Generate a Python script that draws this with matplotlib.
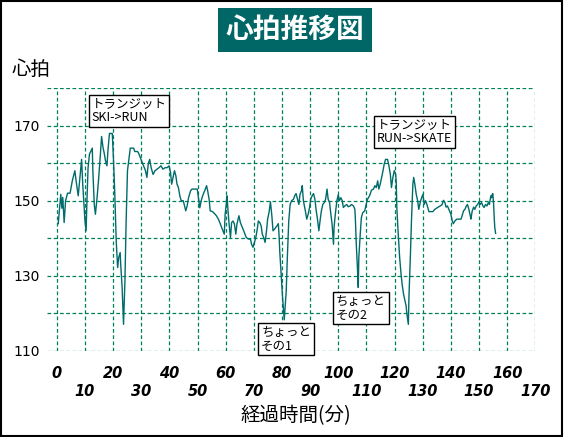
import matplotlib
matplotlib.use('Agg')
from matplotlib import pyplot as plt
from matplotlib.patches import Rectangle

plt.rcParams['font.family'] = ['Noto Sans CJK JP', 'DejaVu Sans']

# elapsed minutes / heart rate
time_min = [
    0.5, 1.4, 1.8, 2.1, 2.6, 3.1, 3.8, 4.7, 5.5, 6.4, 6.9, 7.6, 8.3, 8.8, 9.2, 10.0,
    10.4, 10.7, 11.1, 11.6, 12.6, 12.8, 13.3, 13.7, 14.2, 14.8, 15.4, 15.9, 16.4, 16.8,
    17.3, 17.8, 18.2, 18.7, 19.7, 20.1, 20.6, 21.1, 21.6, 22.0, 22.5, 22.7, 23.2, 23.7,
    24.2, 24.6, 25.1, 25.6, 26.1, 27.3, 27.7, 28.7, 29.2, 29.9, 30.6, 31.1, 31.5, 32.0,
    32.5, 33.0, 33.5, 34.2, 34.9, 35.6, 36.3, 37.0, 37.7, 38.5, 39.2, 39.9, 40.4, 40.8,
    41.3, 41.8, 42.3, 42.7, 43.2, 43.7, 44.2, 44.9, 45.4, 45.8, 46.3, 46.8, 47.5, 48.0,
    48.9, 49.9, 50.4, 50.8, 51.3, 51.8, 52.5, 53.2, 53.6, 54.1, 54.5, 55.3, 56.0, 56.7,
    57.4, 58.1, 58.8, 59.5, 59.8, 60.2, 60.5, 60.7, 61.2, 61.7, 62.1, 62.6, 63.1, 63.6,
    64.0, 64.7, 65.2, 65.9, 66.6, 67.3, 68.1, 68.8, 69.2, 69.7, 70.2, 70.7, 71.2, 71.6,
    72.1, 72.6, 73.0, 73.5, 74.0, 74.5, 74.9, 75.4, 75.9, 76.4, 76.8, 77.3, 77.8, 78.2,
    78.7, 79.0, 79.2, 79.7, 80.2, 80.8, 81.5, 81.9, 82.4, 82.9, 83.4, 84.1, 84.5, 85.0,
    85.5, 86.0, 86.4, 86.9, 87.2, 87.6, 88.3, 88.8, 89.3, 89.8, 90.2, 90.7, 91.2, 91.7,
    92.1, 92.6, 93.1, 93.6, 94.0, 94.5, 95.0, 95.5, 96.0, 96.4, 96.9, 97.3, 97.8, 98.3,
    98.5, 99.0, 99.5, 100.0, 100.4, 100.9, 101.4, 101.8, 102.3, 103.0, 103.5, 104.2,
    104.7, 105.4, 105.9, 106.1, 106.4, 106.8, 107.1, 107.3, 107.8, 108.2, 108.7, 109.4,
    109.9, 110.4, 111.1, 111.8, 112.5, 113.0, 113.5, 114.0, 114.4, 114.9, 115.4, 115.9,
    116.3, 116.8, 117.5, 118.0, 118.5, 118.9, 119.4, 119.9, 120.4, 120.6, 120.8, 121.3,
    121.8, 122.3, 122.7, 123.2, 123.7, 124.1, 124.4, 124.9, 125.1, 125.6, 126.0, 126.3,
    126.5, 126.8, 127.2, 127.7, 128.2, 128.6, 129.1, 129.6, 130.1, 130.5, 131.0, 131.5,
    132.2, 132.9, 133.6, 134.3, 135.3, 136.2, 136.9, 137.4, 137.9, 138.3, 138.8, 139.5,
    140.0, 140.5, 140.9, 141.4, 142.1, 142.8, 143.6, 144.0, 144.5, 145.0, 145.5, 145.9,
    146.4, 146.9, 147.1, 147.6, 148.1, 148.5, 149.0, 149.5, 150.0, 150.4, 150.9, 151.4,
    151.8, 152.3, 152.8, 153.3, 153.7, 154.0, 154.2, 154.5, 154.7, 154.9, 155.2, 155.4,
    155.6, 155.9,
]
heart_rate = [
    143.9, 151.7, 148, 150.9, 144.2, 150, 152, 152, 155.3, 158, 155, 151.3, 157, 161, 154.4, 144.6,
    142, 150, 158.8, 162.4, 164, 158, 149, 146.4, 150, 155.3, 161.5, 167.1, 164.2, 162.8,
    160.6, 159.3, 163.7, 167.9, 167.9, 161.5, 151.7, 139.3, 132.2, 134.9, 136.2, 133, 126.9, 117.1,
    128.7, 143.8, 158, 161, 164, 164, 163.1, 163.1, 162.4, 161, 159.7, 158.8, 158, 156.2,
    159.9, 161, 158.8, 157, 158, 158.4, 158.8, 159.3, 158.4, 158.8, 158.8, 159.3, 157.5, 154.4,
    156.2, 158, 156.6, 154.4, 153.5, 151.3, 150, 150, 148.6, 147.3, 148.6, 150.8, 152.6, 153.1,
    153.1, 153.1, 150.4, 148.1, 150, 151.3, 152.6, 154, 152.6, 150.4, 147.3, 147.1, 146.6, 146,
    145.1, 143.8, 142.4, 141.1, 146.4, 149, 151.3, 148.6, 143.8, 140.2, 144.2, 144.6, 143.8, 141.1,
    143.8, 146, 144.2, 142.9, 141.6, 140.2, 139.8, 139.8, 138.4, 137.6, 138.9, 140.2, 142.4, 144.6,
    144.2, 143.3, 141.1, 140.2, 138.9, 142, 145.1, 146.9, 149.7, 146, 142, 142.4, 142.9, 143.3,
    143.9, 140.2, 136.6, 130.5, 124.3, 118.3, 125.9, 134.9, 144.6, 149, 150, 150.4, 151.3, 151.9,
    150.4, 149, 151.7, 152.6, 154, 150, 147.3, 145.1, 146.4, 148.2, 150.4, 151.3, 151.9, 150.4,
    147.7, 145.1, 142, 145.1, 147.3, 149, 149.5, 150.4, 153.1, 150.4, 149.5, 146.8, 143.8, 138.4,
    142.9, 146.8, 150, 151.6, 150, 150.8, 150, 148.2, 148.6, 149, 148.4, 148.6,
    149, 148.6, 147.7, 144.6, 138.4, 132.2, 126.9, 134.9, 141.1, 145.5, 146.8, 147.3,
    149, 150.4, 151.3, 152.8, 153.1, 154, 153.5, 155.3, 153.1, 154.4, 156.2, 158,
    159.7, 161, 161, 159.3, 157, 153.5, 156.2, 158, 157, 154.9, 148.2, 141.1,
    134.9, 130.5, 127.7, 125.1, 123.3, 122, 119.7, 117.1, 124.2, 134.9, 144.6, 150.8,
    154.4, 156.2, 154.4, 151.7, 150, 147.7, 149.5, 150.8, 151.7, 149, 150, 149,
    147.1, 147.1, 147.1, 147.7, 148.2, 148.6, 149, 150.1, 149.5, 148.3, 148.6, 147.3,
    146.4, 144.6, 143.9, 144.6, 145.1, 145.1, 145.1, 146, 147.3, 147.7, 148.6, 149,
    147.7, 146, 145.1, 147.3, 148.3, 147.7, 148.6, 149, 149.7, 149, 149.5, 148.6,
    148.2, 149, 148.6, 149.5, 149, 150.4, 151.3, 150.8, 151.7, 151.9, 149, 145.5,
    142.9, 141.3,
]

x_ticks_even = [0, 20, 40, 60, 80, 100, 120, 140, 160]
x_ticks_odd = [10, 30, 50, 70, 90, 110, 130, 150, 170]
y_ticks = [110, 120, 130, 140, 150, 160, 170, 180]
y_labels = ['110', '', '130', '', '150', '', '170', '']

# (text, x, y) for the boxed notes
notes = [
    ('トランジット\nSKI->RUN', 25.7, 173.9),
    ('トランジット\nRUN->SKATE', 127.1, 168.3),
    ('ちょっと\nその1', 81.5, 113.2),
    ('ちょっと\nその2', 108.1, 121.4),
]

line_color = '#006b6b'
grid_color = '#00805a'

fig = plt.figure(figsize=(5.64, 4.37), dpi=100)
ax = fig.add_axes([0.0828, 0.1968, 0.8663, 0.6018])

ax.plot(time_min, heart_rate, color=line_color, lw=1.0, zorder=3)

ax.set_xlim(-3.6, 170)
ax.set_ylim(110, 180)
ax.set_xticks(x_ticks_even)
ax.set_xticks(x_ticks_odd, minor=True)
ax.set_xticklabels([str(v) for v in x_ticks_even], fontstyle='italic',
                   fontweight='bold', family='DejaVu Sans', fontsize=10.5)
ax.set_xticklabels([str(v) for v in x_ticks_odd], minor=True, fontstyle='italic',
                   fontweight='bold', family='DejaVu Sans', fontsize=10.5)
ax.set_yticks(y_ticks)
ax.set_yticklabels(y_labels, family='DejaVu Sans', fontsize=10)
ax.tick_params(axis='x', which='major', length=0, pad=11)
ax.tick_params(axis='x', which='minor', length=0, pad=24)
ax.tick_params(axis='y', length=0, pad=5)

ax.grid(True, which='both', color=grid_color, linestyle=(0, (3, 2)), linewidth=0.9)
ax.set_axisbelow(True)
for s in ax.spines.values():
    s.set_visible(False)

for txt, x, y in notes:
    ax.text(x, y, txt, ha='center', va='center', multialignment='left', fontsize=9,
            color='black', zorder=5, clip_on=False, linespacing=1.1,
            bbox=dict(boxstyle='square,pad=0.22', fc='white', ec='black', lw=1))

fig.text(0.523, 0.931, '心拍推移図', ha='center', va='center', fontsize=20,
         fontweight='bold', color='white',
         bbox=dict(boxstyle='square,pad=0.28', fc='#006666', ec='none'))
fig.text(0.021, 0.84, '心拍', ha='left', va='center', fontsize=14)
fig.text(0.524, 0.05, '経過時間(分)', ha='center', va='center', fontsize=14)

fig.patches.append(Rectangle((0.001, 0.002), 0.996, 0.996, transform=fig.transFigure,
                             fill=False, ec='black', lw=1.5))

plt.savefig('out.png', dpi=100)
